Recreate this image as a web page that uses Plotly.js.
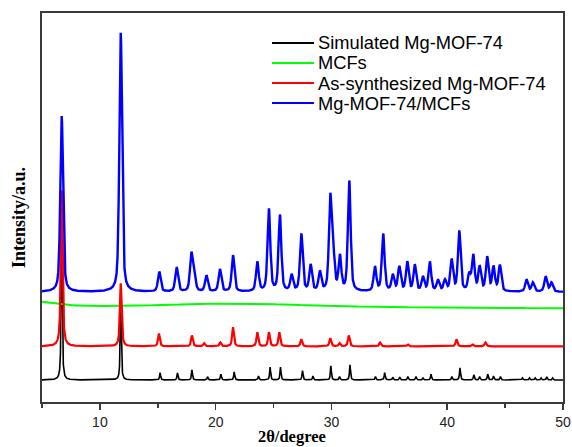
<!DOCTYPE html>
<html><head><meta charset="utf-8">
<script src="https://cdn.plot.ly/plotly-3.0.1.min.js"></script>
<style>html,body{margin:0;padding:0;background:#fff}</style>
</head><body><div id="chart" style="width:572px;height:447px"></div>
<script>
// ---- Data (2θ in degrees, intensity in arbitrary units) ----
const seriesNames = ["Simulated Mg-MOF-74", "MCFs", "As-synthesized Mg-MOF-74", "Mg-MOF-74/MCFs"];
const majorTicks = [10, 20, 30, 40, 50];
const minorTicks = [5, 15, 25, 35, 45];

// Simulated Mg-MOF-74 (black): peak positions and heights above its baseline
const simBaseline = 5.66;
const simPeakPos = [6.7, 11.8, 15.2, 16.7, 17.95, 19.3, 20.45, 21.6, 23.7, 24.7, 25.6, 27.5, 28.4, 29.95, 30.7, 31.6, 33.8, 34.6, 35.3, 35.9, 36.6, 37.3, 37.9, 38.6, 40.4, 41.1, 42.3, 42.8, 43.5, 44.0, 44.6, 46.5, 47.1, 47.6, 48.1, 48.6, 49.1];
const simPeakHeight = [46.3, 23.1, 1.9, 1.8, 2.6, 0.85, 1.5, 2.05, 1.0, 3.3, 3.3, 2.4, 1.0, 3.6, 0.85, 3.9, 0.85, 1.9, 0.7, 0.7, 0.85, 0.85, 0.5, 1.5, 0.85, 3.1, 1.3, 0.85, 1.5, 1.0, 0.85, 0.5, 0.5, 0.5, 0.5, 0.8, 0.5];

// MCFs (green): nearly flat amorphous background
const mcfBaseline = 24.0;
const mcfPeakPos = [4.5, 21.5];
const mcfPeakHeight = [1.6, 1.3];

// As-synthesized Mg-MOF-74 (red)
const asBaseline = 14.3;
const asPeakPos = [6.7, 11.8, 15.1, 17.95, 19.0, 20.4, 21.5, 23.6, 24.6, 25.5, 27.4, 29.9, 30.7, 31.5, 34.2, 36.6, 40.8, 42.2, 43.3];
const asPeakHeight = [40.1, 16.2, 3.3, 2.8, 0.8, 1.0, 4.9, 3.6, 3.6, 3.6, 1.8, 2.1, 0.8, 2.8, 1.0, 0.5, 1.8, 0.5, 1.0];

// Mg-MOF-74/MCFs (blue)
const blueBaseline = 28.3;
const bluePeakPos = [6.7, 11.8, 15.13, 16.63, 17.9, 18.15, 19.2, 20.37, 21.5, 23.6, 24.6, 25.55, 26.56, 27.4, 28.2, 29.0, 29.9, 30.15, 30.73, 31.54, 33.76, 34.47, 35.3, 35.86, 36.55, 37.2, 37.9, 38.5, 39.2, 39.8, 40.38, 41.04, 41.9, 42.25, 42.8, 43.45, 44.0, 44.55, 46.85, 47.4, 48.5, 49.0];
const bluePeakHeight = [45.2, 66.6, 5.1, 6.2, 9.5, 4.0, 4.1, 5.7, 9.3, 7.5, 21.1, 19.5, 4.1, 14.7, 6.7, 4.9, 23.5, 9.0, 8.7, 28.3, 6.2, 14.7, 4.1, 6.2, 7.5, 6.7, 3.6, 7.5, 2.8, 2.8, 8.0, 15.4, 4.1, 9.0, 6.2, 8.7, 6.2, 6.7, 3.1, 2.3, 3.9, 2.3];

// ---- Styling / profile parameters (not data) ----
const peakHalfWidth = [0.05, 0, 0.09, 0.14];
const mcfHalfWidth = [2.0, 9.0];
const lorentzFraction = [0.8, 1, 0.7, 0.5];

const step = 0.01;
const twoTheta = [];
for (let i = 0; i <= Math.round((50 - 5) / step); i++) twoTheta.push(+(5 + i * step).toFixed(2));

function pattern(base, pos, h, w, eta) {
  return twoTheta.map(x => {
    let y = base;
    for (let k = 0; k < pos.length; k++) {
      const ww = Array.isArray(w) ? w[k] : w;
      const d = (x - pos[k]) / ww;
      y += h[k] * (eta / (1 + d * d) + (1 - eta) * Math.exp(-Math.LN2 * d * d));
    }
    return y;
  });
}

const colors = ["#000000", "#00ff00", "#ff0000", "#0000ff"];
const widths = [1.6, 2, 2.2, 2.4];
const ys = [
  pattern(simBaseline, simPeakPos, simPeakHeight, peakHalfWidth[0], lorentzFraction[0]),
  pattern(mcfBaseline, mcfPeakPos, mcfPeakHeight, mcfHalfWidth, lorentzFraction[1]),
  pattern(asBaseline, asPeakPos, asPeakHeight, peakHalfWidth[2], lorentzFraction[2]),
  pattern(blueBaseline, bluePeakPos, bluePeakHeight, peakHalfWidth[3], lorentzFraction[3])
];

const data = seriesNames.map((n, i) => ({
  x: twoTheta, y: ys[i], name: n, type: "scatter", mode: "lines",
  line: {color: colors[i], width: widths[i]}
}));

// manual legend (tight line spacing as in the reference)
const legRowY = [0.923, 0.8715, 0.82, 0.7686];
const shapes = seriesNames.map((n, i) => ({
  type: "line", xref: "paper", yref: "paper", x0: 0.4415, x1: 0.522, y0: legRowY[i], y1: legRowY[i],
  line: {color: colors[i], width: 2}
}));
const annotations = seriesNames.map((n, i) => ({
  text: n, xref: "paper", yref: "paper", x: 0.526, y: legRowY[i], xanchor: "left", yanchor: "middle",
  showarrow: false, font: {family: "Arial, Liberation Sans", size: 18.3, color: "#000"}
}));
annotations.push({text: "<b>Intensity/a.u.</b>", xref: "paper", yref: "paper", x: -0.044, y: 0.473, textangle: -90,
  showarrow: false, xanchor: "center", yanchor: "middle",
  font: {family: "Times New Roman, Liberation Serif", size: 18, color: "#000"}});
annotations.push({text: "<b>2θ/degree</b>", xref: "paper", yref: "paper", x: 0.48, y: -0.1157,
  showarrow: false, xanchor: "center", yanchor: "bottom", borderpad: 0,
  font: {family: "Times New Roman, Liberation Serif", size: 16.5, color: "#000"}});

const layout = {
  width: 572, height: 447,
  margin: {l: 42, r: 9, t: 13, b: 45},
  paper_bgcolor: "#fff", plot_bgcolor: "#fff",
  showlegend: false,
  xaxis: {range: [5, 50], tickmode: "array", tickvals: majorTicks, ticks: "outside", ticklen: 6, tickwidth: 1.5, tickcolor: "#3a3a3a",
          minor: {tickmode: "array", tickvals: minorTicks, ticks: "outside", ticklen: 4, tickwidth: 1.5, tickcolor: "#3a3a3a", showgrid: false},
          showline: true, mirror: true, linecolor: "#3a3a3a", linewidth: 2, showgrid: false, zeroline: false,
          tickfont: {family: "Arial, Liberation Sans", size: 14, color: "#222"}},
  yaxis: {range: [0, 100], showticklabels: false, ticks: "", showline: true, mirror: true, linecolor: "#3a3a3a", linewidth: 2,
          showgrid: false, zeroline: false},
  shapes: shapes,
  annotations: annotations
};

Plotly.newPlot("chart", data, layout, {displayModeBar: false, staticPlot: true});
</script>
</body></html>
